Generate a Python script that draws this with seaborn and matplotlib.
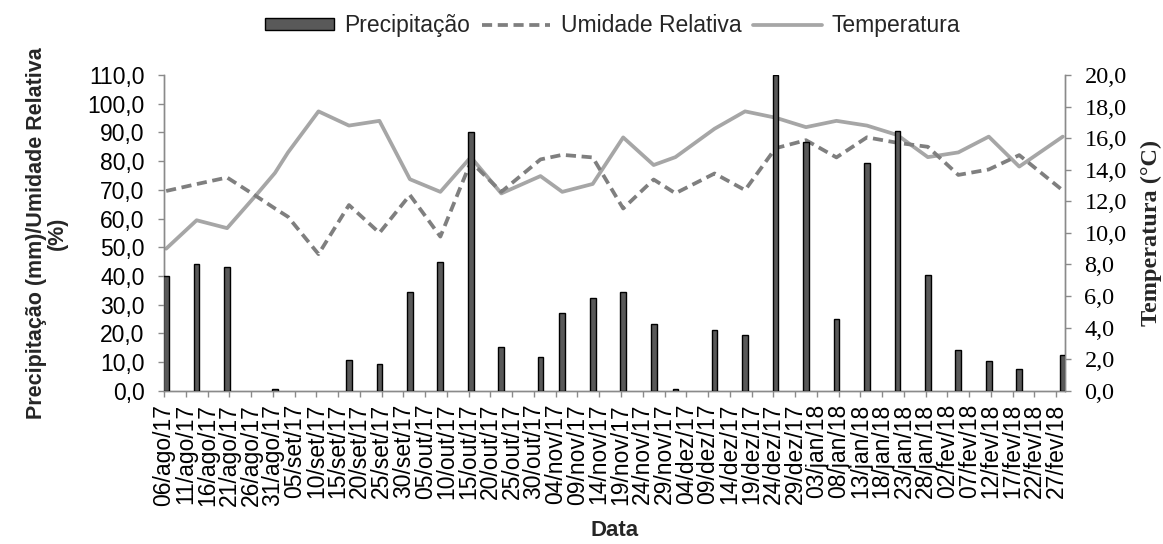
import pandas as pd
import matplotlib
matplotlib.use('Agg')
import matplotlib.pyplot as plt
import seaborn as sns
from matplotlib.patches import Patch
from matplotlib.lines import Line2D
from matplotlib.ticker import FuncFormatter, MultipleLocator

# dados
datas = ['2017-08-06', '2017-08-13', '2017-08-20', '2017-08-27', '2017-08-31', '2017-09-03',
         '2017-09-10', '2017-09-17', '2017-09-24', '2017-10-01', '2017-10-08', '2017-10-15',
         '2017-10-22', '2017-10-31', '2017-11-05', '2017-11-12', '2017-11-19', '2017-11-26',
         '2017-12-01', '2017-12-10', '2017-12-17', '2017-12-24', '2017-12-31', '2018-01-07',
         '2018-01-14', '2018-01-21', '2018-01-28', '2018-02-04', '2018-02-11', '2018-02-18',
         '2018-02-28']
precipitacao = [40.0, 44.1, 43.2, 0.0, 0.6, 0.0, 0.0, 10.7, 9.3, 34.5, 44.9, 90.2, 15.1, 11.6,
                27.2, 32.2, 34.3, 23.2, 0.5, 21.1, 19.4, 110.0, 86.7, 24.9, 79.2, 90.5, 40.3,
                14.2, 10.3, 7.6, 12.4]
umidade = [69.6, 72.0, 74.3, 67.5, 63.5, 60.6, 47.6, 64.7, 55.0, 68.2, 53.7, 79.8, 69.3, 80.6,
           82.2, 81.3, 63.5, 73.6, 68.8, 75.7, 69.9, 84.5, 87.3, 81.3, 88.3, 86.4, 85.0, 75.2,
           77.1, 82.1, 69.8]
temperatura = [9.0, 10.8, 10.3, 12.5, 13.8, 15.1, 17.7, 16.8, 17.1, 13.4, 12.6, 14.8, 12.5, 13.6,
               12.6, 13.1, 16.05, 14.3, 14.8, 16.6, 17.7, 17.3, 16.7, 17.1, 16.8, 16.2, 14.8,
               15.1, 16.1, 14.2, 16.1]
meses = ['jan', 'fev', 'mar', 'abr', 'mai', 'jun', 'jul', 'ago', 'set', 'out', 'nov', 'dez']
rotulos_x = pd.date_range('2017-08-06', '2018-02-27', freq='5D')

inicio = pd.Timestamp('2017-08-06')
df = pd.DataFrame({'Data': pd.to_datetime(datas), 'Precipitacao': precipitacao,
                   'Umidade': umidade, 'Temperatura': temperatura})
df['dia'] = (df['Data'] - inicio).dt.days + 0.5

sns.set_style('white')
plt.rcParams['font.family'] = ['Liberation Sans', 'DejaVu Sans']

cinza = '#8a8a8a'
fig = plt.figure(figsize=(11.63, 5.44), dpi=100)
ax = fig.add_axes([0.141, 0.2818, 0.9157 - 0.141, 0.862 - 0.2818])
ax2 = ax.twinx()

# temperatura no eixo da direita
sns.lineplot(data=df, x='dia', y='Temperatura', ax=ax2, color='#a6a6a6', linewidth=2.7,
             errorbar=None)

# precipitacao e umidade no eixo da esquerda
sns.barplot(data=df, x='dia', y='Precipitacao', ax=ax, native_scale=True, width=0.44,
            color='#595959', saturation=1, edgecolor='black', linewidth=1.0, errorbar=None,
            zorder=3)
# barras com valor zero nao aparecem no original
for p in ax.patches:
    if p.get_height() == 0:
        p.set_visible(False)
sns.lineplot(data=df, x='dia', y='Umidade', ax=ax, color='#7f7f7f', linewidth=2.7,
             linestyle=(0, (2.7, 1.5)), errorbar=None, zorder=2)

ax.set_zorder(ax2.get_zorder() + 1)
ax.patch.set_visible(False)

ax.set_xlim(0, 207)
ax.set_ylim(0, 110)
ax2.set_ylim(0, 20)
ax.yaxis.set_major_locator(MultipleLocator(10))
ax2.yaxis.set_major_locator(MultipleLocator(2))
virgula = FuncFormatter(lambda v, p: f'{v:.1f}'.replace('.', ','))
ax.yaxis.set_major_formatter(virgula)
ax2.yaxis.set_major_formatter(virgula)

pos_x = [(d - inicio).days for d in rotulos_x]
ax.set_xticks(pos_x)
ax.set_xticklabels([f'{d.day:02d}/{meses[d.month - 1]}/{d.year % 100}' for d in rotulos_x],
                   rotation=90, fontsize=16.5)

for a in (ax, ax2):
    for s in a.spines.values():
        s.set_color(cinza)
        s.set_linewidth(1.0)
    a.spines['top'].set_visible(False)
    a.tick_params(colors=cinza, length=4.5, width=1.0, direction='out')
    a.tick_params(labelcolor='black')
    a.grid(False)

ax.tick_params(axis='y', labelsize=16.5, pad=9.5, left=True)
ax.tick_params(axis='x', pad=5, bottom=True)
ax2.tick_params(axis='y', labelsize=17.5, pad=9.5, right=True)
for t in ax2.get_yticklabels():
    t.set_fontfamily('Liberation Serif')

ax.set_xlabel('Data', fontsize=16, fontweight='bold')
ax.xaxis.set_label_coords(0.5, -0.41)
ax.set_ylabel('Precipitação (mm)/Umidade Relativa\n(%)', fontsize=15.5, fontweight='bold',
              linespacing=1.0)
ax.yaxis.set_label_coords(-0.107, 0.5)
ax2.set_ylabel('Temperatura (°C)', fontsize=17.5, fontweight='bold', family='Liberation Serif')
ax2.yaxis.set_label_coords(1.084, 0.5)

handles = [Patch(facecolor='#595959', edgecolor='black', linewidth=1.0),
           Line2D([], [], color='#7f7f7f', linewidth=2.7, linestyle=(0, (2.7, 1.5))),
           Line2D([], [], color='#a6a6a6', linewidth=2.7)]
fig.legend(handles, ['Precipitação', 'Umidade Relativa', 'Temperatura'], loc='center',
           bbox_to_anchor=(0.527, 1 - 26 / 544), ncol=3, frameon=False, fontsize=16.5,
           handlelength=3.0, handleheight=0.45, handletextpad=0.45, columnspacing=0.5)

fig.savefig('out.png', dpi=100)
